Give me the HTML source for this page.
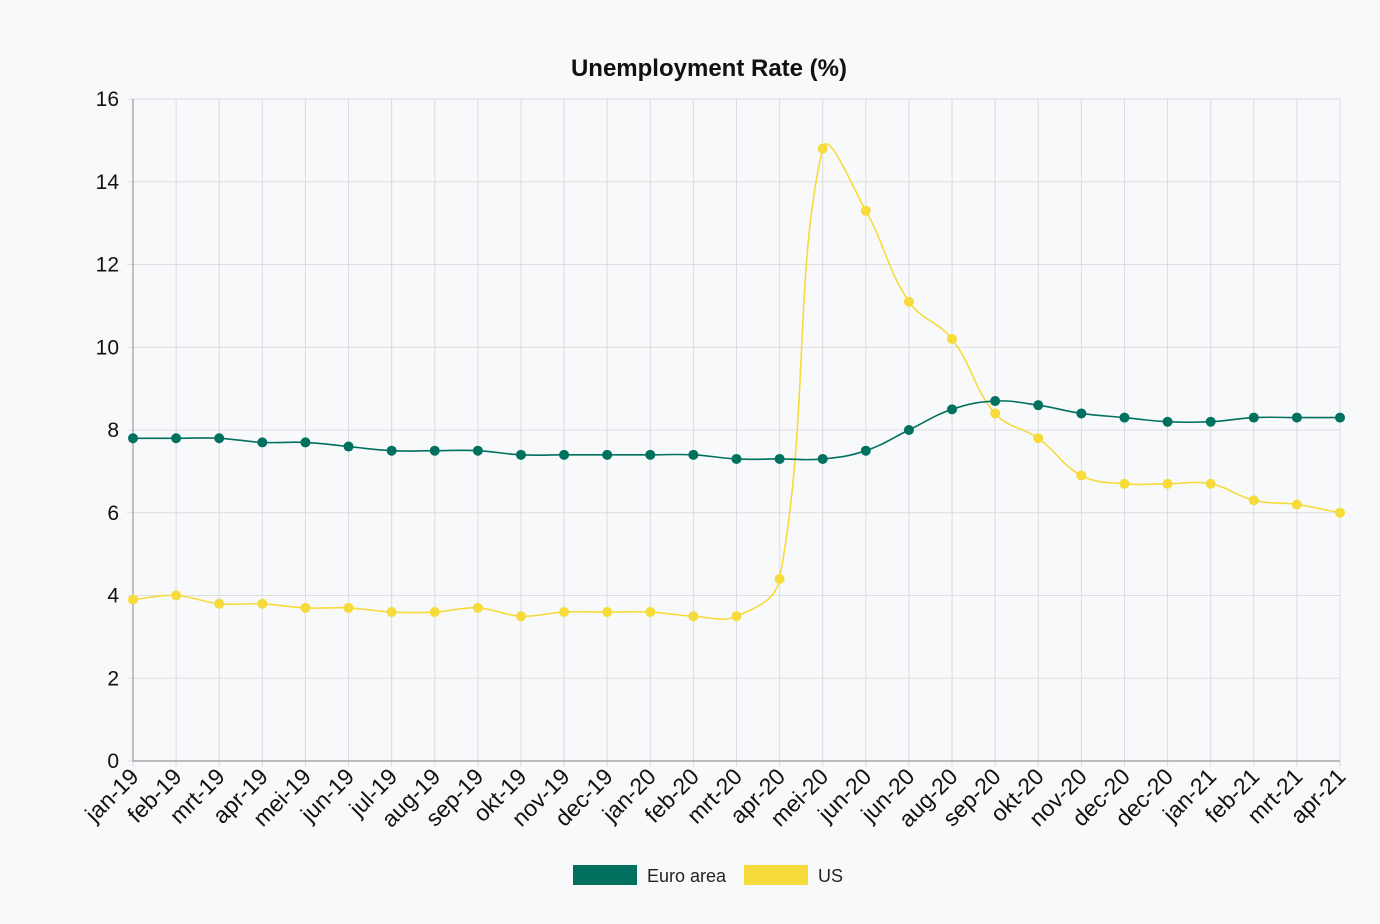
<!DOCTYPE html>
<html><head><meta charset="utf-8"><style>
html,body{margin:0;padding:0;background:#f8f9fb;}
svg{display:block;font-family:"Liberation Sans",Arial,sans-serif;}
</style></head><body>
<svg id="chart" width="1380" height="924">
<text x="709" y="76" text-anchor="middle" font-size="24" font-weight="bold" fill="#111">Unemployment Rate (%)</text>
<g id="grid"></g><g id="axes"></g><g id="series"></g>
<g>
<rect x="573" y="865" width="64" height="20" fill="#00705f"/>
<text x="647" y="882" font-size="18" fill="#222">Euro area</text>
<rect x="744" y="865" width="64" height="20" fill="#f7db3b"/>
<text x="818" y="882" font-size="18" fill="#222">US</text>
</g>
</svg>
<script>
const categories=["jan-19","feb-19","mrt-19","apr-19","mei-19","jun-19","jul-19","aug-19","sep-19","okt-19","nov-19","dec-19","jan-20","feb-20","mrt-20","apr-20","mei-20","jun-20","jun-20","aug-20","sep-20","okt-20","nov-20","dec-20","dec-20","jan-21","feb-21","mrt-21","apr-21"];
const euroValues=[7.8,7.8,7.8,7.7,7.7,7.6,7.5,7.5,7.5,7.4,7.4,7.4,7.4,7.4,7.3,7.3,7.3,7.5,8.0,8.5,8.7,8.6,8.4,8.3,8.2,8.2,8.3,8.3,8.3];
const usValues=[3.9,4.0,3.8,3.8,3.7,3.7,3.6,3.6,3.7,3.5,3.6,3.6,3.6,3.5,3.5,4.4,14.8,13.3,11.1,10.2,8.4,7.8,6.9,6.7,6.7,6.7,6.3,6.2,6.0];
const yTicks=[0,2,4,6,8,10,12,14,16];
const NS="http://www.w3.org/2000/svg";
const L=133,R=1340,T=99,B=761,YMAX=16;
const xs=i=>L+(R-L)*i/(categories.length-1);
const ys=v=>B-(B-T)*v/YMAX;
function mk(tag,attrs,parent){const e=document.createElementNS(NS,tag);for(const k in attrs)e.setAttribute(k,attrs[k]);parent.appendChild(e);return e;}
const grid=document.getElementById('grid'),axes=document.getElementById('axes'),series=document.getElementById('series');
yTicks.forEach(v=>{
 const l=mk('line',{x1:L-6,x2:R,y1:ys(v),y2:ys(v),stroke:'#dcdde0','stroke-width':1},grid);
 
 
 const t=mk('text',{x:L-14,y:ys(v)+7,'text-anchor':'end','font-size':21,fill:'#111'},axes);
 t.textContent=v;
 
 
});
categories.forEach((c,i)=>{
 const x=xs(i);
 const l=mk('line',{x1:x,x2:x,y1:T,y2:B+6,stroke:'#dcdde0','stroke-width':1},grid);
 
 
 const t=mk('text',{x:x+7,y:B+17,'text-anchor':'end','font-size':23,fill:'#111',transform:`rotate(-45 ${x+7} ${B+17})`},axes);
 t.textContent=c;
 
 
});
const ax=mk('path',{d:`M${L} ${T}V${B}H${R}`,stroke:'#999',fill:'none','stroke-width':1.2},axes);


function smooth(pts,t){
 let d=`M${pts[0][0]} ${pts[0][1]}`;
 const cp=pts.map((p,i)=>{
  const a=pts[Math.max(0,i-1)],b=pts[Math.min(pts.length-1,i+1)];
  const d01=Math.hypot(p[0]-a[0],p[1]-a[1]),d12=Math.hypot(b[0]-p[0],b[1]-p[1]);
  let fa=d01/(d01+d12||1),fb=d12/(d01+d12||1);fa=isNaN(fa)?0:fa*t;fb=isNaN(fb)?0:fb*t;
  return {px:p[0]-fa*(b[0]-a[0]),py:p[1]-fa*(b[1]-a[1]),nx:p[0]+fb*(b[0]-a[0]),ny:p[1]+fb*(b[1]-a[1])};
 });
 for(let i=1;i<pts.length;i++){d+=`C${cp[i-1].nx} ${cp[i-1].ny} ${cp[i].px} ${cp[i].py} ${pts[i][0]} ${pts[i][1]}`;}
 return d;
}
function draw(vals,color,name){
 const pts=vals.map((v,i)=>[xs(i),ys(v)]);
 const p=mk('path',{d:smooth(pts,0.4),stroke:color,fill:'none','stroke-width':1.6},series);
 
 
 pts.forEach(q=>{
  const c=mk('circle',{cx:q[0],cy:q[1],r:5,fill:color},series);
  
  
 });
}
draw(usValues,'#f7db3b','us');
draw(euroValues,'#00705f','euro');
</script>
</body></html>
